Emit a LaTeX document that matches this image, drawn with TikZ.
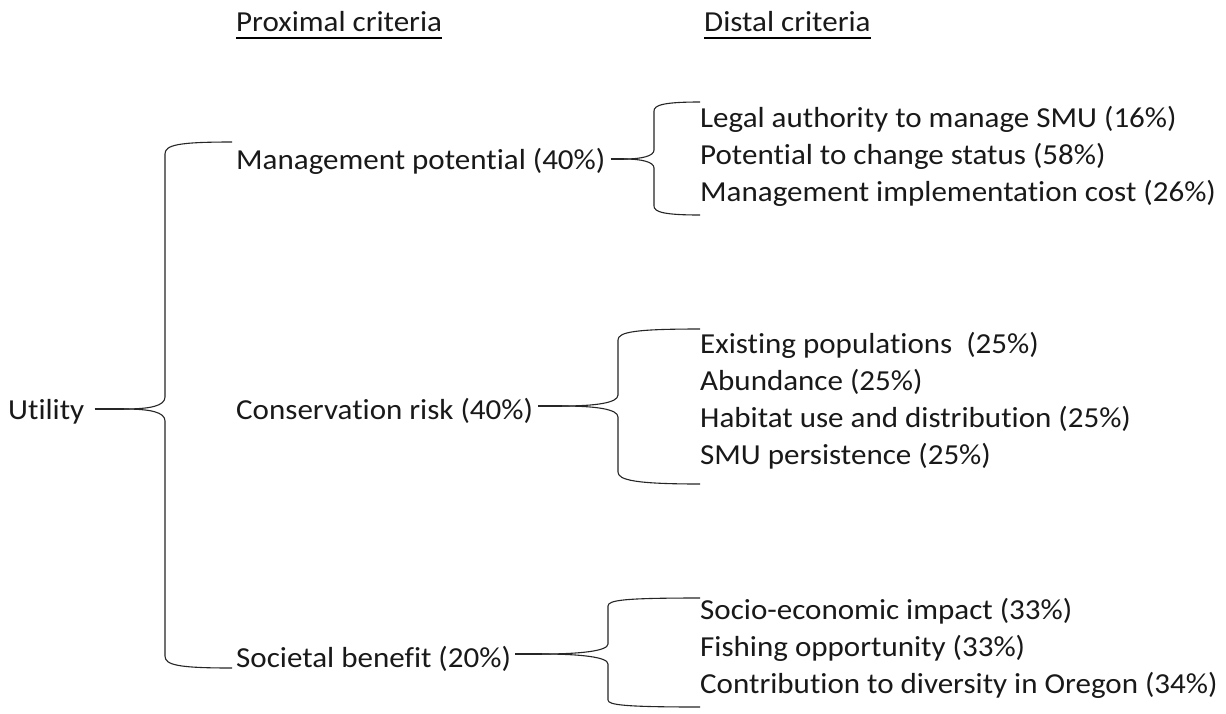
\documentclass[tikz,border=0pt]{standalone}
\usepackage{fontspec}
\setmainfont{Carlito}[Ligatures=NoCommon,FakeStretch=1.07]
\begin{document}
\begin{tikzpicture}[x=1pt,y=-1pt,
  lbl/.style={anchor=base west,inner sep=0pt,font=\fontsize{29}{34}\selectfont,text=black!90},
  br/.style={line width=1.1pt,draw=black!85},
  ul/.style={line width=2pt,draw=black}]
\path[use as bounding box,fill=white] (0,0) rectangle (1226,713);
% headers
\node[lbl] (hp) at (236,31) {Proximal criteria};
\node[lbl] (hd) at (704,31) {Distal criteria};
\draw[ul] ([yshift=-6.5pt]hp.base west) -- ([yshift=-6.5pt]hp.base east);
\draw[ul] ([yshift=-6.5pt]hd.base west) -- ([yshift=-6.5pt]hd.base east);
% root
\node[lbl] (u) at (8,419) {Utility};
% proximal
\node[lbl] (mp) at (236,169) {Management potential (40\%)};
\node[lbl] (cr) at (236,419) {Conservation risk (40\%)};
\node[lbl] (sb) at (236,667) {Societal benefit (20\%)};
% distal
\node[lbl] (d11) at (700,127) {Legal authority to manage SMU (16\%)};
\node[lbl] (d12) at (700,164) {Potential to change status (58\%)};
\node[lbl] (d13) at (700,201) {Management implementation cost (26\%)};
\node[lbl] (d21) at (700,353) {Existing populations~ (25\%)};
\node[lbl] (d22) at (700,390) {Abundance (25\%)};
\node[lbl] (d23) at (700,427) {Habitat use and distribution (25\%)};
\node[lbl] (d24) at (700,464) {SMU persistence (25\%)};
\node[lbl] (d31) at (700,619) {Socio-economic impact (33\%)};
\node[lbl] (d32) at (700,656) {Fishing opportunity (33\%)};
\node[lbl] (d33) at (700,693) {Contribution to diversity in Oregon (34\%)};
% brace coordinates
\coordinate (t0) at (124,409);
\coordinate (e0a) at (232,142);
\coordinate (e0b) at (232,668);
\coordinate (t1) at (624,159);
\coordinate (e1a) at (700,102);
\coordinate (e1b) at (700,215);
\coordinate (t2) at (562,406);
\coordinate (e2a) at (700,329);
\coordinate (e2b) at (700,484);
\coordinate (t3) at (542,654);
\coordinate (e3a) at (700,598);
\coordinate (e3b) at (700,707);
% stems
\draw[br] ([xshift=10pt]u.east |- t0) -- (t0);
\draw[br] ([xshift=5pt]mp.east |- t1) -- (t1);
\draw[br] ([xshift=5pt]cr.east |- t2) -- (t2);
\draw[br] ([xshift=4pt]sb.east |- t3) -- (t3);
% brace 0
\draw[br] (t0) .. controls (150,409) and (165,406) .. (165,397) -- (165,154) .. controls (165,145) and (178,142) .. (e0a);
\draw[br] (t0) .. controls (150,409) and (165,412) .. (165,421) -- (165,656) .. controls (165,665) and (178,668) .. (e0b);
% brace 1
\draw[br] (t1) .. controls (642,159) and (654,156) .. (654,150) -- (654,111) .. controls (654,105) and (664,102) .. (e1a);
\draw[br] (t1) .. controls (642,159) and (654,162) .. (654,168) -- (654,206) .. controls (654,212) and (664,215) .. (e1b);
% brace 2
\draw[br] (t2) .. controls (595,406) and (618,403) .. (618,395) -- (618,340) .. controls (618,332) and (635,329) .. (e2a);
\draw[br] (t2) .. controls (595,406) and (618,409) .. (618,417) -- (618,472) .. controls (618,480) and (635,484) .. (e2b);
% brace 3
\draw[br] (t3) .. controls (580,654) and (608,651) .. (608,644) -- (608,606) .. controls (608,600) and (625,598) .. (e3a);
\draw[br] (t3) .. controls (580,654) and (608,657) .. (608,664) -- (608,700) .. controls (608,705) and (625,707) .. (e3b);
\end{tikzpicture}
\end{document}
